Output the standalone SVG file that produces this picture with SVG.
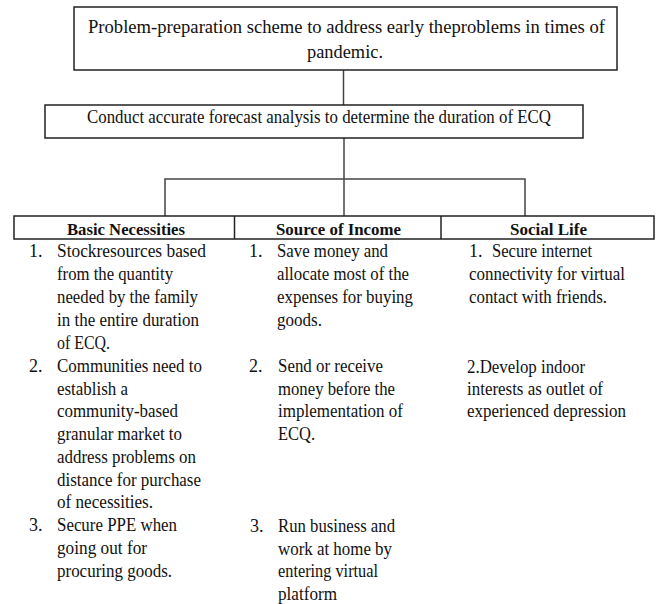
<svg xmlns="http://www.w3.org/2000/svg" width="657" height="604" viewBox="0 0 657 604">
<style>
.box{fill:#fff;stroke:#222;stroke-width:1.5}
.conn{fill:none;stroke:#444;stroke-width:1.5}
.t{font-family:"Liberation Serif","Times New Roman",serif;font-size:18px;fill:#111}
.h{font-family:"Liberation Serif","Times New Roman",serif;font-size:17.5px;font-weight:bold;fill:#111}
</style>
<rect width="657" height="604" fill="#fff"/>
<g id="connectors">
<line class="conn" x1="343.5" y1="70" x2="343.5" y2="105"/>
<line class="conn" x1="344" y1="138" x2="344" y2="216"/>
<polyline class="conn" points="165,216 165,179 525,179 525,216"/>
</g>
<g id="node-title">
<rect class="box" x="74" y="7" width="543" height="63"/>
<text class="t" x="88" y="33" textLength="517" lengthAdjust="spacingAndGlyphs">Problem-preparation scheme to address early theproblems in times of</text>
<text class="t" x="307" y="58" textLength="76" lengthAdjust="spacingAndGlyphs">pandemic.</text>
</g>
<g id="node-forecast">
<rect class="box" x="45" y="105" width="538" height="33"/>
<text class="t" x="87" y="123" textLength="464" lengthAdjust="spacingAndGlyphs">Conduct accurate forecast analysis to determine the duration of ECQ</text>
</g>
<g id="node-header">
<rect class="box" x="14" y="216" width="640" height="23"/>
<line class="box" x1="234.5" y1="216" x2="234.5" y2="239"/>
<line class="box" x1="441" y1="216" x2="441" y2="239"/>
</g>
<g id="node-basic">
<text class="h" x="67" y="235" textLength="118" lengthAdjust="spacingAndGlyphs">Basic Necessities</text>
<text class="t" x="29" y="257">1.</text>
<text class="t" x="57" y="257" textLength="149" lengthAdjust="spacingAndGlyphs">Stockresources based</text>
<text class="t" x="57" y="280" textLength="116" lengthAdjust="spacingAndGlyphs">from the quantity</text>
<text class="t" x="57" y="303" textLength="141" lengthAdjust="spacingAndGlyphs">needed by the family</text>
<text class="t" x="57" y="326" textLength="142" lengthAdjust="spacingAndGlyphs">in the entire duration</text>
<text class="t" x="57" y="349" textLength="53" lengthAdjust="spacingAndGlyphs">of ECQ.</text>
<text class="t" x="29" y="372">2.</text>
<text class="t" x="57" y="372" textLength="145" lengthAdjust="spacingAndGlyphs">Communities need to</text>
<text class="t" x="57" y="395" textLength="71" lengthAdjust="spacingAndGlyphs">establish a</text>
<text class="t" x="57" y="417" textLength="121" lengthAdjust="spacingAndGlyphs">community-based</text>
<text class="t" x="57" y="440" textLength="125" lengthAdjust="spacingAndGlyphs">granular market to</text>
<text class="t" x="57" y="463" textLength="139" lengthAdjust="spacingAndGlyphs">address problems on</text>
<text class="t" x="57" y="486" textLength="144" lengthAdjust="spacingAndGlyphs">distance for purchase</text>
<text class="t" x="57" y="508" textLength="96" lengthAdjust="spacingAndGlyphs">of necessities.</text>
<text class="t" x="29" y="531">3.</text>
<text class="t" x="57" y="531" textLength="120" lengthAdjust="spacingAndGlyphs">Secure PPE when</text>
<text class="t" x="57" y="554" textLength="90" lengthAdjust="spacingAndGlyphs">going out for</text>
<text class="t" x="57" y="577" textLength="115" lengthAdjust="spacingAndGlyphs">procuring goods.</text>
</g>
<g id="node-income">
<text class="h" x="276" y="235" textLength="125" lengthAdjust="spacingAndGlyphs">Source of Income</text>
<text class="t" x="249" y="257">1.</text>
<text class="t" x="277" y="257" textLength="111" lengthAdjust="spacingAndGlyphs">Save money and</text>
<text class="t" x="277" y="280" textLength="132" lengthAdjust="spacingAndGlyphs">allocate most of the</text>
<text class="t" x="277" y="303" textLength="136" lengthAdjust="spacingAndGlyphs">expenses for buying</text>
<text class="t" x="277" y="326" textLength="45" lengthAdjust="spacingAndGlyphs">goods.</text>
<text class="t" x="249" y="372">2.</text>
<text class="t" x="278" y="372" textLength="105" lengthAdjust="spacingAndGlyphs">Send or receive</text>
<text class="t" x="278" y="395" textLength="117" lengthAdjust="spacingAndGlyphs">money before the</text>
<text class="t" x="278" y="417" textLength="125" lengthAdjust="spacingAndGlyphs">implementation of</text>
<text class="t" x="278" y="440" textLength="37" lengthAdjust="spacingAndGlyphs">ECQ.</text>
<text class="t" x="250" y="532">3.</text>
<text class="t" x="278" y="532" textLength="117" lengthAdjust="spacingAndGlyphs">Run business and</text>
<text class="t" x="278" y="555" textLength="114" lengthAdjust="spacingAndGlyphs">work at home by</text>
<text class="t" x="278" y="577" textLength="100" lengthAdjust="spacingAndGlyphs">entering virtual</text>
<text class="t" x="278" y="600" textLength="59" lengthAdjust="spacingAndGlyphs">platform</text>
</g>
<g id="node-social">
<text class="h" x="510" y="235" textLength="77" lengthAdjust="spacingAndGlyphs">Social Life</text>
<text class="t" x="469" y="257">1.</text>
<text class="t" x="492" y="257" textLength="100" lengthAdjust="spacingAndGlyphs">Secure internet</text>
<text class="t" x="469" y="280" textLength="156" lengthAdjust="spacingAndGlyphs">connectivity for virtual</text>
<text class="t" x="469" y="303" textLength="138" lengthAdjust="spacingAndGlyphs">contact with friends.</text>
<text class="t" x="467" y="373" textLength="118" lengthAdjust="spacingAndGlyphs">2.Develop indoor</text>
<text class="t" x="467" y="395" textLength="136" lengthAdjust="spacingAndGlyphs">interests as outlet of</text>
<text class="t" x="467" y="417" textLength="159" lengthAdjust="spacingAndGlyphs">experienced depression</text>
</g>
</svg>
